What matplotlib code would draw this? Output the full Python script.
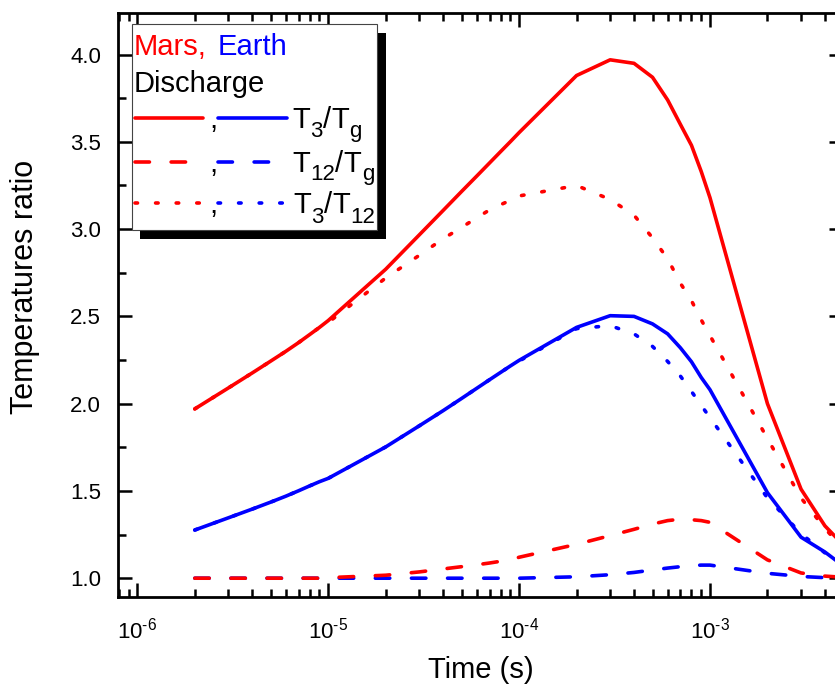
import numpy as np
import matplotlib
matplotlib.use("Agg")
import matplotlib.pyplot as plt
from matplotlib.ticker import LogLocator, MultipleLocator, NullFormatter, FormatStrFormatter, FuncFormatter
from matplotlib.patches import Rectangle
from matplotlib.lines import Line2D

plt.rcParams['font.family'] = ['Liberation Sans', 'DejaVu Sans']
plt.rcParams['mathtext.fontset'] = 'custom'
plt.rcParams['mathtext.rm'] = 'Liberation Sans'
plt.rcParams['mathtext.it'] = 'Liberation Sans:italic'
plt.rcParams['mathtext.bf'] = 'Liberation Sans:bold'
plt.rcParams['mathtext.default'] = 'regular'

# ---------------- data ----------------
time_s = [2e-6, 3e-6, 4e-6, 5e-6, 6e-6, 7e-6, 8e-6, 9e-6,
          1e-5, 2e-5, 3e-5, 4e-5, 5e-5, 6e-5, 7e-5, 8e-5, 9e-5,
          1e-4, 2e-4, 3e-4, 4e-4, 5e-4, 6e-4, 7e-4, 8e-4, 9e-4,
          1e-3, 2e-3, 3e-3, 4e-3, 5e-3]

mars_T3_Tg = [1.97, 2.09, 2.176, 2.244, 2.30, 2.35, 2.396, 2.437,
              2.476, 2.77, 2.967, 3.107, 3.216, 3.304, 3.379, 3.444, 3.501,
              3.553, 3.88, 3.97, 3.95, 3.87, 3.74, 3.60, 3.48, 3.33,
              3.18, 2.00, 1.51, 1.30, 1.19]

mars_T12_Tg = [1.00, 1.00, 1.00, 1.00, 1.00, 1.00, 1.00, 1.00,
               1.003, 1.017, 1.036, 1.053, 1.066, 1.077, 1.087, 1.097, 1.105,
               1.12, 1.194, 1.244, 1.28, 1.31, 1.33, 1.338, 1.335, 1.33,
               1.32, 1.105, 1.03, 1.012, 1.005]

mars_T3_T12 = [1.97, 2.09, 2.176, 2.244, 2.30, 2.35, 2.396, 2.437,
               2.465, 2.72, 2.85, 2.945, 3.01, 3.065, 3.11, 3.14, 3.165,
               3.19, 3.25, 3.17, 3.08, 2.95, 2.83, 2.69, 2.59, 2.48,
               2.39, 1.80, 1.46, 1.285, 1.17]

earth_T3_Tg = [1.276, 1.346, 1.396, 1.436, 1.470, 1.501, 1.529, 1.553,
               1.572, 1.752, 1.873, 1.96, 2.03, 2.088, 2.137, 2.179, 2.216,
               2.248, 2.437, 2.504, 2.50, 2.457, 2.40, 2.32, 2.24, 2.15,
               2.08, 1.49, 1.235, 1.15, 1.07]

earth_T12_Tg = [1.00, 1.00, 1.00, 1.00, 1.00, 1.00, 1.00, 1.00,
                1.00, 1.00, 1.00, 1.00, 1.00, 1.00, 1.00, 1.00, 1.00,
                1.00, 1.008, 1.02, 1.033, 1.047, 1.058, 1.066, 1.072, 1.075,
                1.075, 1.028, 1.01, 1.003, 1.00]

earth_T3_T12 = [1.276, 1.346, 1.396, 1.436, 1.470, 1.501, 1.529, 1.553,
                1.572, 1.752, 1.873, 1.96, 2.03, 2.088, 2.137, 2.179, 2.216,
                2.244, 2.43, 2.447, 2.40, 2.328, 2.242, 2.158, 2.07, 1.99,
                1.92, 1.46, 1.255, 1.145, 1.08]

x_limits = (7.95e-7, 5e-3)
y_limits = (0.894, 4.24)

RED = '#ff0000'
BLUE = '#0000ff'

# ---------------- figure ----------------
W, H = 835, 684
fig = plt.figure(figsize=(W / 100, H / 100), dpi=100)
L, R, T, B = 118.3, 843.4, 12.7, 596.7
ax = fig.add_axes([L / W, 1 - B / H, (R - L) / W, (B - T) / H])

LW = 2.6
solid = dict(linestyle='-', solid_capstyle='round', solid_joinstyle='round')
dashed = dict(linestyle=(0, (4.0, 6.0)), dash_capstyle='round', dash_joinstyle='round')
dotted = dict(linestyle=(0, (0.7, 5.0)), dash_capstyle='round', dash_joinstyle='round')

ax.plot(time_s, earth_T3_Tg, color=BLUE, lw=LW, **solid)
ax.plot(time_s, earth_T12_Tg, color=BLUE, lw=LW, **dashed)
ax.plot(time_s, earth_T3_T12, color=BLUE, lw=LW, **dotted)
ax.plot(time_s, mars_T3_Tg, color=RED, lw=LW, **solid)
ax.plot(time_s, mars_T12_Tg, color=RED, lw=LW, **dashed)
ax.plot(time_s, mars_T3_T12, color=RED, lw=LW, **dotted)

ax.set_xscale('log')
ax.set_xlim(*x_limits)
ax.set_ylim(*y_limits)
ax.xaxis.set_major_locator(LogLocator(base=10, numticks=20))
ax.xaxis.set_minor_locator(LogLocator(base=10, subs=np.arange(2, 10), numticks=20))
ax.xaxis.set_minor_formatter(NullFormatter())


def log_label(v, pos):
    e = int(round(np.log10(v)))
    if e < 0:
        return r'$10^{\text{-}%d}$' % (-e)
    return r'$10^{%d}$' % e


ax.xaxis.set_major_formatter(FuncFormatter(log_label))
ax.yaxis.set_major_locator(MultipleLocator(0.5))
ax.yaxis.set_minor_locator(MultipleLocator(0.25))
ax.yaxis.set_major_formatter(FormatStrFormatter('%.1f'))

for s in ax.spines.values():
    s.set_linewidth(2.0)
ax.tick_params(which='both', direction='in', top=True, right=True, width=1.8)
ax.tick_params(which='major', length=10, labelsize=16)
ax.tick_params(which='minor', length=5.5)
ax.tick_params(axis='x', which='major', pad=15)
ax.tick_params(axis='y', which='major', pad=12.5)

ax.set_xlabel('Time (s)', fontsize=21)
ax.xaxis.set_label_coords(0.5, (B - 677.5) / (B - T))
ax.xaxis.label.set_verticalalignment('baseline')
ax.set_ylabel('Temperatures ratio', fontsize=22)
ax.yaxis.set_label_coords((33.3 - L) / (R - L), (B - 286.7) / (B - T))
ax.yaxis.label.set_verticalalignment('baseline')

# ---------------- legend (drawn in figure pixels) ----------------
def fx(x):
    return x / W

def fy(y):
    return 1 - y / H

shadow = Rectangle((fx(140), fy(239)), (386 - 140) / W, (239 - 33) / H,
                   transform=fig.transFigure, facecolor='black', edgecolor='none', zorder=5)
box = Rectangle((fx(131.7), fy(230)), (377.3 - 131.7) / W, (230 - 24) / H,
                transform=fig.transFigure, facecolor='white', edgecolor='#444444',
                lw=0.8, zorder=6)
fig.add_artist(shadow)
fig.add_artist(box)

FS = 21
SUB = 16
renderer = fig.canvas.get_renderer()


def txt(x, y, s, size=FS, color='black'):
    t = fig.text(fx(x), fy(y), s, fontsize=size, color=color, ha='left', va='baseline', zorder=8)
    return t.get_window_extent(renderer=renderer).x1


txt(134, 55, 'Mars,', color=RED)
txt(218, 55, 'Earth', color=BLUE)
txt(134, 91.7, 'Discharge')


def sample(x0, x1, y, color, style):
    ln = Line2D([fx(x0), fx(x1)], [fy(y), fy(y)], transform=fig.transFigure,
                color=color, lw=LW, zorder=7, **style)
    fig.add_artist(ln)


rows = [(118.3, 128.0, 137.0, solid, 292, [('T', 0), ('3', 1), ('/', 0), ('T', 0), ('g', 1)]),
        (161.7, 171.7, 180.0, dashed, 292, [('T', 0), ('12', 1), ('/', 0), ('T', 0), ('g', 1)]),
        (203.3, 213.3, 222.7, dotted, 293, [('T', 0), ('3', 1), ('/', 0), ('T', 0), ('12', 1)])]

for ly, base, subbase, style, x0, pieces in rows:
    sample(134.5, 203, ly, RED, style)
    sample(218.5, 287, ly, BLUE, style)
    txt(209, base, ',')
    x = x0
    for s, is_sub in pieces:
        if is_sub:
            x = txt(x, subbase, s, size=SUB) + 0.3
        else:
            x = txt(x, base, s) + 0.3

fig.savefig('out.png', dpi=100)
